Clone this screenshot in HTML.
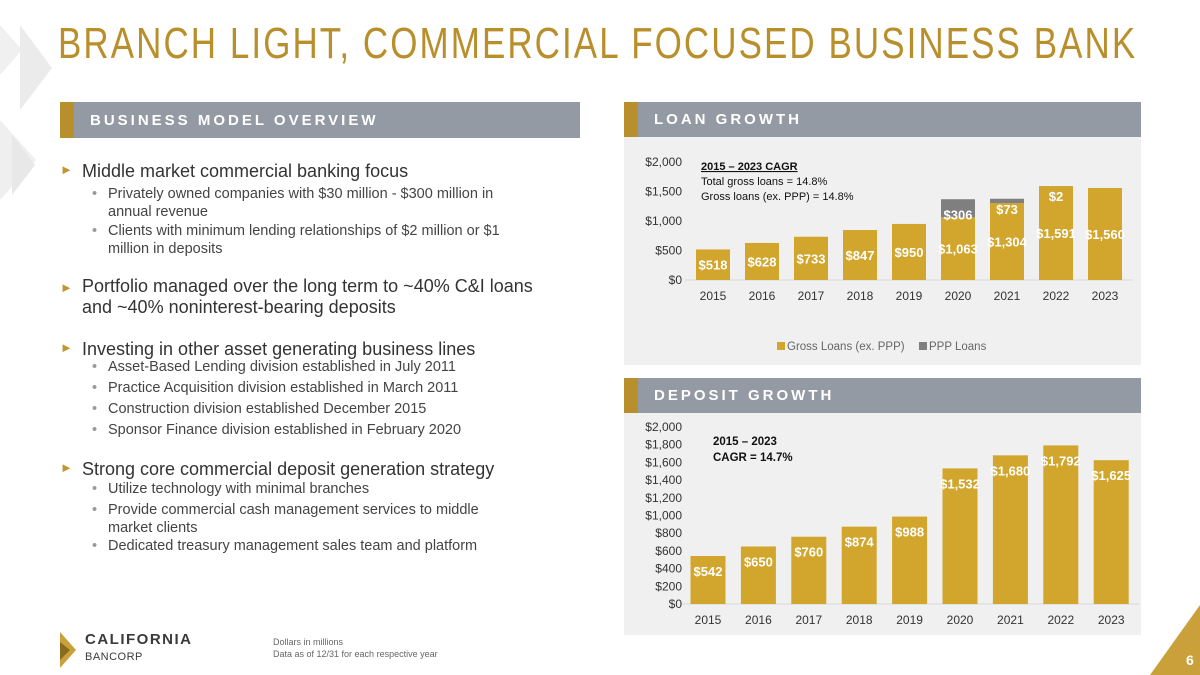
<!DOCTYPE html>
<html><head><meta charset="utf-8"><style>
body{margin:0;width:1200px;height:675px;background:#fff;position:relative;overflow:hidden;font-family:"Liberation Sans",sans-serif;}
.abs{position:absolute;}
.hdr{position:absolute;background:#939aa4;color:#fff;font-weight:bold;letter-spacing:3px;font-size:15px;}
.hdr .acc{position:absolute;left:0;top:0;bottom:0;width:14px;background:#b98f2c;}
.hdr span{position:absolute;left:30px;top:10px;}
.b1{position:absolute;left:82px;font-size:18px;color:#333;}
.b1:before{content:"►";position:absolute;left:-22px;top:1px;font-size:13px;color:#c0962f;}
.b2{position:absolute;left:108px;font-size:14.5px;color:#444;line-height:18px;}
.b2:before{content:"•";position:absolute;left:-16px;color:#999;}
</style></head><body>
<svg class="abs" style="left:0;top:0" width="60" height="220">
<polygon points="0,25 22,50 0,75" fill="#f0f0f0"/><polygon points="20,25 52,68 20,110" fill="#ebebeb"/><polygon points="0,120 36,160 0,200" fill="#efefef"/><polygon points="12,135 35,165 12,195" fill="#e8e8e8"/></svg>
<div class="abs" style="left:58px;top:19px;font-size:44px;color:#b98f2c;letter-spacing:2.6px;white-space:nowrap;transform:scaleX(0.795);transform-origin:left top">BRANCH LIGHT, COMMERCIAL FOCUSED BUSINESS BANK</div>

<div class="hdr" style="left:60px;top:102px;width:520px;height:36px"><div class="acc"></div><span>BUSINESS MODEL OVERVIEW</span></div>

<div>
<div class="b1" style="top:161px">Middle market commercial banking focus</div>
<div class="b2" style="top:185px">Privately owned companies with $30 million - $300 million in<br>annual revenue</div>
<div class="b2" style="top:222px">Clients with minimum lending relationships of $2 million or $1<br>million in deposits</div>
<div class="b1" style="top:276px;line-height:21px">Portfolio managed over the long term to ~40% C&amp;I loans<br>and ~40% noninterest-bearing deposits</div>
<div class="b1" style="top:339px">Investing in other asset generating business lines</div>
<div class="b2" style="top:358px">Asset-Based Lending division established in July 2011</div>
<div class="b2" style="top:379px">Practice Acquisition division established in March 2011</div>
<div class="b2" style="top:400px">Construction division established December 2015</div>
<div class="b2" style="top:421px">Sponsor Finance division established in February 2020</div>
<div class="b1" style="top:459px">Strong core commercial deposit generation strategy</div>
<div class="b2" style="top:480px">Utilize technology with minimal branches</div>
<div class="b2" style="top:501px">Provide commercial cash management services to middle<br>market clients</div>
<div class="b2" style="top:537px">Dedicated treasury management sales team and platform</div>
</div>

<div class="hdr" style="left:624px;top:102px;width:517px;height:35px"><div class="acc"></div><span style="top:9px">LOAN GROWTH</span></div>
<div class="abs" style="left:624px;top:137px;width:517px;height:228px;background:#f0f0f0"></div>
<svg id="loan" class="abs" style="left:0;top:0" width="1200" height="675"></svg>

<div class="hdr" style="left:624px;top:378px;width:517px;height:35px"><div class="acc"></div><span style="top:9px">DEPOSIT GROWTH</span></div>
<div class="abs" style="left:624px;top:413px;width:517px;height:222px;background:#f0f0f0"></div>
<svg id="dep" class="abs" style="left:0;top:0" width="1200" height="675"></svg>

<svg class="abs" style="left:60px;top:632px" width="18" height="36"><polygon points="0,0 16,18 0,36" fill="#c9a03a"/><polygon points="0,10 10,18 0,28" fill="#8a6a1c"/></svg>
<div class="abs" style="left:85px;top:631px;font-size:15px;font-weight:bold;color:#3a3a3a;letter-spacing:1.5px">CALIFORNIA</div>
<div class="abs" style="left:85px;top:651px;font-size:11px;color:#3a3a3a;letter-spacing:0.5px">BANCORP</div>
<div class="abs" style="left:273px;top:636px;font-size:9px;color:#666;line-height:12px">Dollars in millions<br>Data as of 12/31 for each respective year</div>
<svg class="abs" style="left:1150px;top:605px" width="50" height="70"><polygon points="50,0 50,70 0,70" fill="#c9a03a"/><text x="36" y="60" font-size="14" font-weight="bold" fill="#fff" font-family="Liberation Sans">6</text></svg>

<script>
const years=["2015","2016","2017","2018","2019","2020","2021","2022","2023"];
const loanEx=[518,628,733,847,950,1063,1304,1591,1560];
const loanPPP=[0,0,0,0,0,306,73,2,0];
const loanTicks=[0,500,1000,1500,2000];
const deposits=[542,650,760,874,988,1532,1680,1792,1625];
const depTicks=[0,200,400,600,800,1000,1200,1400,1600,1800,2000];
const NS="http://www.w3.org/2000/svg";
function mk(p,t,a,txt){const e=document.createElementNS(NS,t);for(const k in a)e.setAttribute(k,a[k]);if(txt!==undefined)e.textContent=txt;p.appendChild(e);return e;}
const fmt=v=>"$"+v.toLocaleString("en-US");
function chart(svg,cfg){
  const y=v=>cfg.y0-(v/cfg.max)*(cfg.y0-cfg.y1);
  const x=i=>cfg.x0+i*cfg.step;
  mk(svg,"line",{x1:cfg.x0-28,x2:x(8)+28,y1:cfg.y0,y2:cfg.y0,stroke:"#d9d9d9"});
  cfg.ticks.forEach(t=>{const e=mk(svg,"text",{x:682,y:y(t)+4,"text-anchor":"end","font-size":12,fill:"#333","font-family":"Liberation Sans"},fmt(t));
    
    });
  years.forEach((yr,i)=>{const e=mk(svg,"text",{x:x(i),y:cfg.y0+20,"text-anchor":"middle","font-size":12,fill:"#333","font-family":"Liberation Sans"},yr);
    
    });
  cfg.series[0].forEach((v,i)=>{
    const r=mk(svg,"rect",{x:x(i)-cfg.bw/2,y:y(v),width:cfg.bw,height:cfg.y0-y(v),fill:"#d2a62c"});
    
    
    const ly=cfg.mid?y(v)+(cfg.y0-y(v))*0.5+5:y(v)+cfg.lo;
    const t=mk(svg,"text",{x:x(i),y:ly,"text-anchor":"middle","font-size":13,"font-weight":"bold",fill:"#fff","font-family":"Liberation Sans"},fmt(v));
    
    
    if(cfg.series[1]&&cfg.series[1][i]>0){const p=cfg.series[1][i];
      const r2=mk(svg,"rect",{x:x(i)-cfg.bw/2,y:y(v+p),width:cfg.bw,height:y(v)-y(v+p),fill:"#7f7f7f"});
      
      
      const t2=mk(svg,"text",{x:x(i),y:Math.max(y(v+p)+15,y(v)+2),"text-anchor":"middle","font-size":13,"font-weight":"bold",fill:"#fff","font-family":"Liberation Sans"},fmt(p));
      
      }
  });
}
const L=document.getElementById("loan"),D=document.getElementById("dep");
chart(L,{x0:713,step:49,bw:34,y0:280,y1:162,max:2000,ticks:loanTicks,series:[loanEx,loanPPP],mid:true});
chart(D,{x0:708,step:50.4,bw:35,y0:604,y1:427,max:2000,ticks:depTicks,series:[deposits],lo:20});
const tx=(p,x,y,s,w,txt,name,u)=>{const e=mk(p,"text",{x:x,y:y,"font-size":s,"font-weight":w,fill:"#111","font-family":"Liberation Sans","text-decoration":u?"underline":"none"},txt);
  
  };
tx(L,701,170,11,"bold","2015 – 2023 CAGR","loan-cagr-title",true);
tx(L,701,185,11,"normal","Total gross loans = 14.8%","loan-cagr-total");
tx(L,701,200,11,"normal","Gross loans (ex. PPP) = 14.8%","loan-cagr-ex-ppp");
tx(D,713,445,11.5,"bold","2015 – 2023","deposit-cagr-title");
tx(D,713,461,11.5,"bold","CAGR =  14.7%","deposit-cagr-value");
mk(L,"rect",{x:777,y:342,width:8,height:8,fill:"#d2a62c"});
const lg1=mk(L,"text",{x:787,y:350,"font-size":11.5,fill:"#666","font-family":"Liberation Sans"},"Gross Loans (ex. PPP)");


mk(L,"rect",{x:919,y:342,width:8,height:8,fill:"#7f7f7f"});
const lg2=mk(L,"text",{x:929,y:350,"font-size":11.5,fill:"#666","font-family":"Liberation Sans"},"PPP Loans");


</script>
</body></html>
